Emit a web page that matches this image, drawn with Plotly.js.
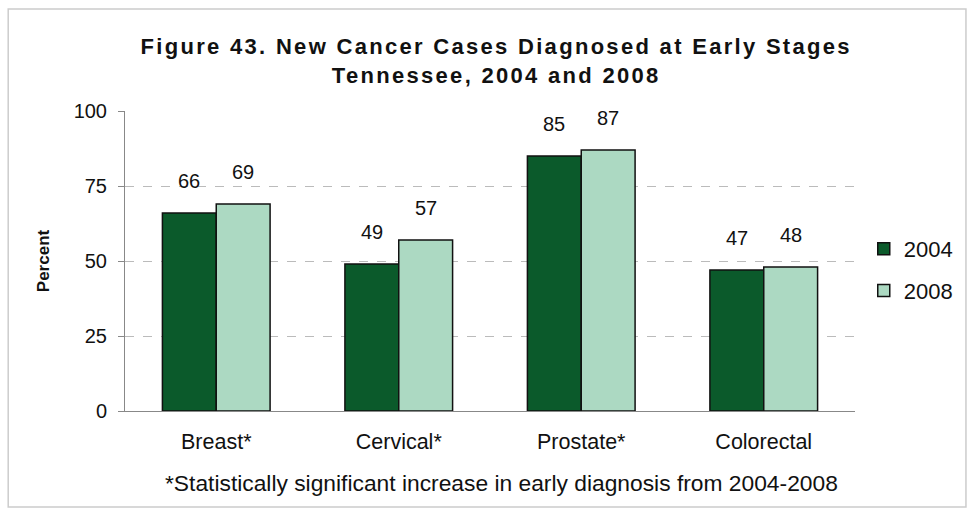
<!DOCTYPE html>
<html>
<head>
<meta charset="utf-8">
<script src="https://cdn.plot.ly/plotly-3.0.1.min.js"></script>
<style>
html,body{margin:0;padding:0;background:#fff;}
#chart{width:973px;height:518px;}
#chart .gtitle{letter-spacing:2.3px;}
</style>
</head>
<body>
<div id="chart"></div>
<script>
const categories = ["Breast*", "Cervical*", "Prostate*", "Colorectal"];
const series = ["2004", "2008"];
const values2004 = [66, 49, 85, 47];
const values2008 = [69, 57, 87, 48];
const yTicks = [0, 25, 50, 75, 100];

const FONT = 'Liberation Sans, Arial, sans-serif';
const BARGAP = 0.41;

const common = {
  type: 'bar',
  x: categories,
  cliponaxis: false,
  hoverinfo: 'none'
};

const traces = [
  Object.assign({}, common, {
    name: series[0], y: values2004, legendgroup: 'a',
    marker: {color: '#0b5a2b', line: {color: '#111', width: 1.5}}
  }),
  Object.assign({}, common, {
    name: series[1], y: values2008, legendgroup: 'b',
    marker: {color: '#acd9c2', line: {color: '#111', width: 1.5}}
  })
];

// value labels placed above each bar, using the axis data coordinates
const halfBar = (1 - BARGAP) / 4;
const valueLabels = [];
[values2004, values2008].forEach((vals, s) => {
  vals.forEach((v, i) => {
    valueLabels.push({
      xref: 'x', yref: 'y', x: i + (s === 0 ? -halfBar : halfBar), y: v,
      yshift: 32, xanchor: 'center', yanchor: 'middle',
      text: String(v), showarrow: false,
      font: {family: FONT, size: 20, color: '#111'}
    });
  });
});

const layout = {
  width: 973, height: 518,
  paper_bgcolor: '#fff', plot_bgcolor: '#fff',
  margin: {l: 125, r: 118, t: 111, b: 107},
  font: {family: FONT, color: '#111'},
  title: {
    text: '<b>Figure 43. New Cancer Cases Diagnosed at Early Stages</b><br><b>Tennessee, 2004 and 2008</b>',
    font: {size: 22, family: FONT, color: '#111'},
    x: 0.51, xanchor: 'center', y: 0.895, yanchor: 'top'
  },
  barmode: 'group',
  bargap: BARGAP,
  bargroupgap: 0,
  showlegend: true,
  legend: {
    x: 1.012, xanchor: 'left', y: 0.47, yanchor: 'middle',
    font: {size: 22, color: '#111'},
    traceorder: 'grouped', tracegroupgap: 10,
    bgcolor: 'rgba(0,0,0,0)'
  },
  xaxis: {
    type: 'category',
    showline: true, linecolor: '#888', linewidth: 1,
    ticks: '', tickfont: {size: 21.5, color: '#111'},
    ticklabelstandoff: 11,
    showgrid: false, fixedrange: true
  },
  yaxis: {
    range: [0, 100],
    tickvals: yTicks, ticktext: yTicks.map(String),
    showline: true, linecolor: '#888', linewidth: 1,
    ticks: 'outside', ticklen: 6, tickcolor: '#888',
    ticklabelstandoff: 7,
    tickfont: {size: 20, color: '#111'},
    showgrid: true, gridcolor: '#bbb', griddash: 'dash', gridwidth: 1,
    zeroline: false,
    title: {text: '<b>Percent</b>', font: {size: 17, color: '#111'}, standoff: 19},
    fixedrange: true
  },
  annotations: [{
    xref: 'paper', yref: 'paper', x: 0.516, y: -0.24, xanchor: 'center', yanchor: 'middle',
    text: '*Statistically significant increase in early diagnosis from 2004-2008',
    showarrow: false, font: {size: 22.8, color: '#111'}
  }].concat(valueLabels),
  shapes: [{
    type: 'rect', xref: 'paper', yref: 'paper',
    x0: -0.16, x1: 1.152, y0: -0.32, y1: 1.34,
    line: {color: '#ccc', width: 1.5}
  }]
};

Plotly.newPlot('chart', traces, layout, {displayModeBar: false, staticPlot: true});
</script>
</body>
</html>
